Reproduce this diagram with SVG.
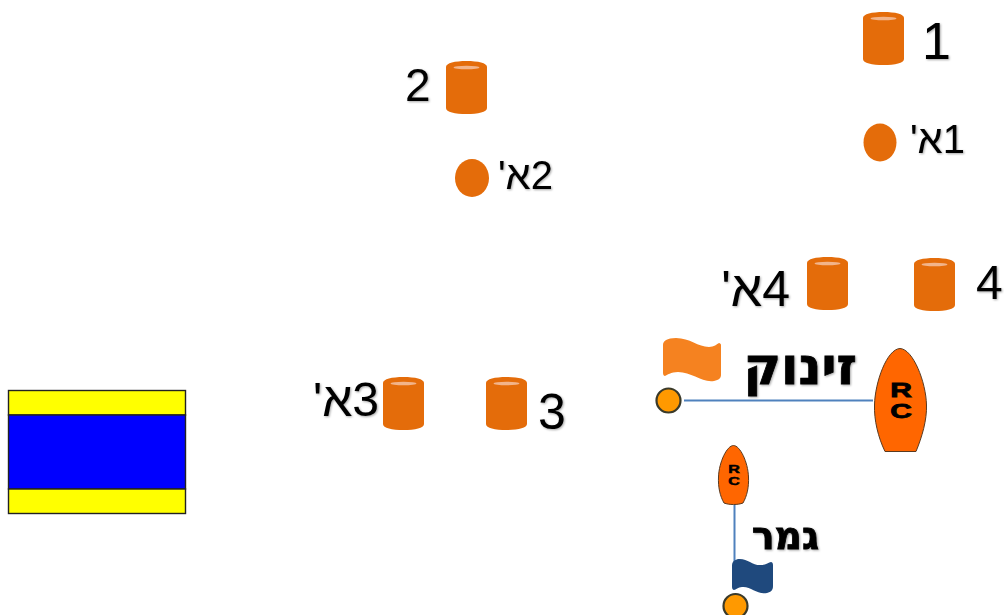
<svg xmlns="http://www.w3.org/2000/svg" width="1004" height="615" viewBox="0 0 1004 615">
<style>
text{font-family:"Liberation Sans",Arial,sans-serif;fill:#000;filter:url(#sh)}
.rtl{direction:rtl}
.b{font-family:"DejaVu Sans","Liberation Sans",sans-serif;font-weight:bold;stroke:#000;stroke-width:0.800}
.rc{font-family:"Liberation Sans",Arial,sans-serif;font-weight:bold;stroke:#000;text-anchor:middle;filter:none}
.sail{fill:#FF6600;stroke:#5a3a20;stroke-width:1}
.buoy{fill:#FF9900;stroke:#3a3a2a;stroke-width:2.2}
.line{stroke:#4F81BD;stroke-width:2;fill:none}
.mark{fill:#E46C0A}
.st{stroke:#222;stroke-width:1.4}
</style>
<defs>
<filter id="sh" x="-10%" y="-10%" width="125%" height="125%"><feDropShadow dx="1" dy="1" stdDeviation="1.1" flood-color="#000" flood-opacity="0.35"/></filter>
<g id="cyl">
<path class="mark" d="M0 6C0 2 9 0 20.500 0S41 2 41 6V47C41 51 32 53 20.500 53S0 51 0 47Z"/>
<ellipse cx="20.500" cy="6.500" rx="13" ry="1.800" fill="#F2B48A"/>
</g>
</defs>
<g id="connectors">
<line class="line" x1="684" y1="400.500" x2="873" y2="400.500"/>
<line class="line" x1="734.500" y1="505" x2="734.500" y2="562"/>
</g>
<g id="mark-1"><use href="#cyl" x="863" y="12"/><text x="922" y="59" font-size="52">1</text></g>
<g id="mark-1a"><ellipse class="mark" cx="880" cy="142.500" rx="16.500" ry="19"/><text class="rtl" x="965" y="153" font-size="40">1א'</text></g>
<g id="mark-2"><use href="#cyl" x="446" y="61"/><text x="405" y="101" font-size="46">2</text></g>
<g id="mark-2a"><ellipse class="mark" cx="472" cy="178" rx="17" ry="19"/><text class="rtl" x="553" y="189" font-size="40">2א'</text></g>
<g id="mark-3"><use href="#cyl" x="486" y="377"/><text x="538" y="429" font-size="50">3</text></g>
<g id="mark-3a"><use href="#cyl" x="383" y="377"/><text class="rtl" x="379" y="416" font-size="48">3א'</text></g>
<g id="mark-4"><use href="#cyl" x="914" y="258"/><text x="976" y="299" font-size="48">4</text></g>
<g id="mark-4a"><use href="#cyl" x="807" y="257"/><text class="rtl" x="790" y="306" font-size="50">4א'</text></g>
<g id="start-flag"><path d="M663 345C663 341 667 338 676 338C690 338 698 347 709 347C714 347 717 344 719 343C720 343 721 344 721 345V375C721 378 719 380 714 381C702 383 692 372 678 372C671 372 667 375 665 376C664 376 663 375 663 373Z" fill="#F58220"/></g>
<g id="start-label"><text class="b rtl" x="857" y="384" font-size="51">זינוק</text></g>
<g id="start-buoy"><circle class="buoy" cx="668.500" cy="400.500" r="12"/></g>
<g id="start-rc"><path class="sail" d="M885 451.500C878 437 874 420 874.500 405C875 382 887 349 900 348.500C913 349 926 382 926.500 405C927 420 922 437 916 451.500Z"/><text class="rc" transform="translate(901 397) scale(1.5 1)" font-size="20" stroke-width="0.800">R</text><text class="rc" transform="translate(901 418) scale(1.5 1)" font-size="20" stroke-width="0.800">C</text></g>
<g id="finish-rc"><path class="sail" d="M724 503C720 496 718 487 718.500 477C719 462 727 445.500 733.500 445.500C740 445.500 748 462 748.500 477C749 487 747 496 743 503C738 505 729 505 724 503Z"/><text class="rc" transform="translate(734 473) scale(1.4 1)" font-size="11.500" stroke-width="0.500">R</text><text class="rc" transform="translate(734 485) scale(1.4 1)" font-size="11.500" stroke-width="0.500">C</text></g>
<g id="finish-label"><text class="b rtl" x="819" y="549" font-size="38">גמר</text></g>
<g id="finish-flag"><path d="M732 565C732 562 734 560 738 559C748 558 752 566 762 565C766 565 769 562 771 562C772 562 773 563 773 565V586C773 590 771 592 767 593C757 595 751 586 742 587C738 587 736 590 734 590C733 590 732 589 732 587Z" fill="#1F497D"/></g>
<g id="finish-buoy"><circle class="buoy" cx="735.500" cy="606" r="12"/></g>
<g id="flag-rect">
<rect class="st" x="8.500" y="390.500" width="177" height="24.500" fill="#FFFF00"/>
<rect class="st" x="8.500" y="415" width="177" height="74" fill="#0000FF"/>
<rect class="st" x="8.500" y="489" width="177" height="24.500" fill="#FFFF00"/>
</g>
</svg>
